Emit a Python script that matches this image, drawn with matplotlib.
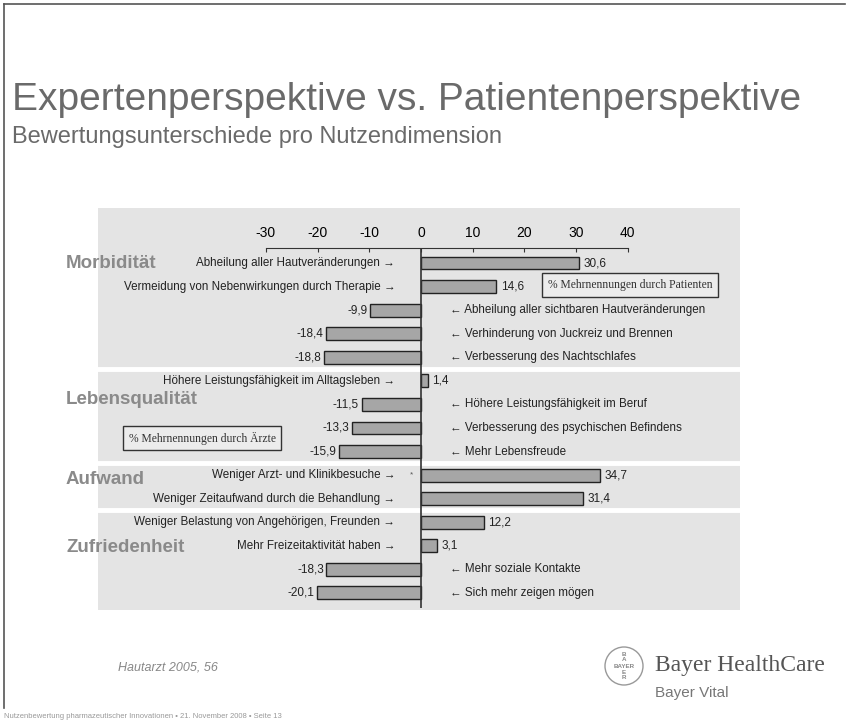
import matplotlib
matplotlib.use("Agg")
import matplotlib.pyplot as plt
from matplotlib.patches import Circle
from matplotlib.lines import Line2D
import matplotlib.transforms as mtransforms

plt.rcParams['font.family'] = ['Liberation Sans', 'DejaVu Sans']

# data
items = [
    "Abheilung aller Hautveränderungen",
    "Vermeidung von Nebenwirkungen durch Therapie",
    "Abheilung aller sichtbaren Hautveränderungen",
    "Verhinderung von Juckreiz und Brennen",
    "Verbesserung des Nachtschlafes",
    "Höhere Leistungsfähigkeit im Alltagsleben",
    "Höhere Leistungsfähigkeit im Beruf",
    "Verbesserung des psychischen Befindens",
    "Mehr Lebensfreude",
    "Weniger Arzt- und Klinikbesuche",
    "Weniger Zeitaufwand durch die Behandlung",
    "Weniger Belastung von Angehörigen, Freunden",
    "Mehr Freizeitaktivität haben",
    "Mehr soziale Kontakte",
    "Sich mehr zeigen mögen",
]
values = [30.6, 14.6, -9.9, -18.4, -18.8, 1.4, -11.5, -13.3, -15.9,
          34.7, 31.4, 12.2, 3.1, -18.3, -20.1]
sections = ["Morbidität", "Lebensqualität", "Aufwand", "Zufriedenheit"]
section_rows = [(0, 4), (5, 8), (9, 10), (11, 14)]
xticks = [-30, -20, -10, 0, 10, 20, 30, 40]

W, H = 847, 728
fig = plt.figure(figsize=(W / 100, H / 100), dpi=100)
fig.patch.set_facecolor('white')


def fx(x):
    return x / W


def fy(y):
    return 1 - y / H


# slide border
fig.add_artist(Line2D([fx(4), fx(845)], [fy(4), fy(4)], color='#555', lw=1.2))
fig.add_artist(Line2D([fx(4), fx(4)], [fy(4), fy(708)], color='#555', lw=1.2))

fig.text(fx(12), fy(100), "Expertenperspektive vs. Patientenperspektive",
         fontsize=28, color='#6a6a6a', va='center')
fig.text(fx(12), fy(137), "Bewertungsunterschiede pro Nutzendimension",
         fontsize=17, color='#6a6a6a', va='center')

# chart panel
pl, pr, pt, pb = 98, 740, 208, 610     # panel edges in pixels
ax = fig.add_axes([fx(pl), fy(pb), (pr - pl) / W, (pb - pt) / H])
x0, scale = 421, 5.17          # pixel of zero, pixels per unit
y0, step = 263, 23.57          # pixel of first row, pixels per row
ax.set_xlim((pl - x0) / scale, (pr - x0) / scale)
ax.set_ylim((pb - y0) / step, (pt - y0) / step)
ax.set_facecolor('#e4e4e4')
for s in ['left', 'right', 'bottom']:
    ax.spines[s].set_visible(False)

# white separators between sections
for a, b in section_rows[1:]:
    ax.axhline(a - 0.5, color='white', lw=3.5, zorder=1)

axis_y = (248 - y0) / step
ax.xaxis.tick_top()
ax.set_xticks(xticks)
ax.set_xticklabels([str(t) for t in xticks], fontsize=8.5, color='#333')
ax.spines['top'].set_position(('data', axis_y))
ax.spines['top'].set_bounds(xticks[0], xticks[-1])
ax.spines['top'].set_color('#333')
ax.tick_params(axis='x', direction='in', length=3, pad=6, color='#333')
ax.set_yticks([])

rows = list(range(len(values)))
ax.barh(rows, values, height=0.55, color='#a6a6a6', edgecolor='#222',
        linewidth=1.0, zorder=3)
ax.vlines(0, axis_y, len(values) - 0.35, color='#333', lw=1.2, zorder=4)

for i, (lab, v) in enumerate(zip(items, values)):
    txt = f"{v:.1f}".replace('.', ',')
    if v >= 0:
        ax.text(v + 0.8, i, txt, ha='left', va='center', fontsize=8.5, color='#222')
        ax.text(-5.0, i, lab + " →", ha='right', va='center', fontsize=8.4, color='#222')
    else:
        ax.text(v - 0.5, i, txt, ha='right', va='center', fontsize=8.5, color='#222')
        ax.text(5.6, i, "← " + lab, ha='left', va='center', fontsize=8.4, color='#222')

ax.text(-1.8, 9, "*", ha='center', va='center', fontsize=6, color='#555')

# section labels (they stick out to the left of the panel)
blend = mtransforms.blended_transform_factory(fig.transFigure, ax.transData)
section_y = [0, 5.81, 9.2, 12.09]
for name, yy in zip(sections, section_y):
    ax.text(fx(66), yy, name, transform=blend, ha='left', va='center',
            fontsize=13.5, fontweight='bold', color='#8a8a8a', clip_on=False)

# legend boxes
box = dict(boxstyle='square,pad=0.5', facecolor='#ececec', edgecolor='#333', lw=1.0)
ax.text((630 - x0) / scale, (285 - y0) / step, "% Mehrnennungen durch Patienten",
        family='Liberation Serif', fontsize=8.4, ha='center', va='center',
        color='#333', bbox=box)
ax.text((202 - x0) / scale, (438 - y0) / step, "% Mehrnennungen durch Ärzte",
        family='Liberation Serif', fontsize=8.4, ha='center', va='center',
        color='#333', bbox=box)

# footer
fig.text(fx(118), fy(668), "Hautarzt 2005, 56", fontsize=9, style='italic',
         color='#888', va='center')
fig.text(fx(655), fy(665), "Bayer HealthCare", family='Liberation Serif',
         fontsize=17, color='#555', va='center')
fig.text(fx(655), fy(693), "Bayer Vital", fontsize=11, color='#777', va='center')
fig.text(fx(4), fy(716), "Nutzenbewertung pharmazeutischer Innovationen • 21. November 2008 • Seite 13",
         fontsize=5.5, color='#999', va='center')

# logo (pixel coordinates)
lx, ly, r = 624, 666, 19
fig.add_artist(Circle((lx, H - ly), r, transform=mtransforms.IdentityTransform(),
                      fill=False, edgecolor='#999', lw=1.0))
fig.text(fx(lx), fy(ly), "BAYER", fontsize=4.5, color='#888', ha='center',
         va='center', fontweight='bold')
fig.text(fx(lx), fy(ly - 9), "B\nA", fontsize=4.5, color='#888', ha='center',
         va='center', fontweight='bold', linespacing=0.9)
fig.text(fx(lx), fy(ly + 9), "E\nR", fontsize=4.5, color='#888', ha='center',
         va='center', fontweight='bold', linespacing=0.9)

fig.savefig("out.png", dpi=100, facecolor='white')
